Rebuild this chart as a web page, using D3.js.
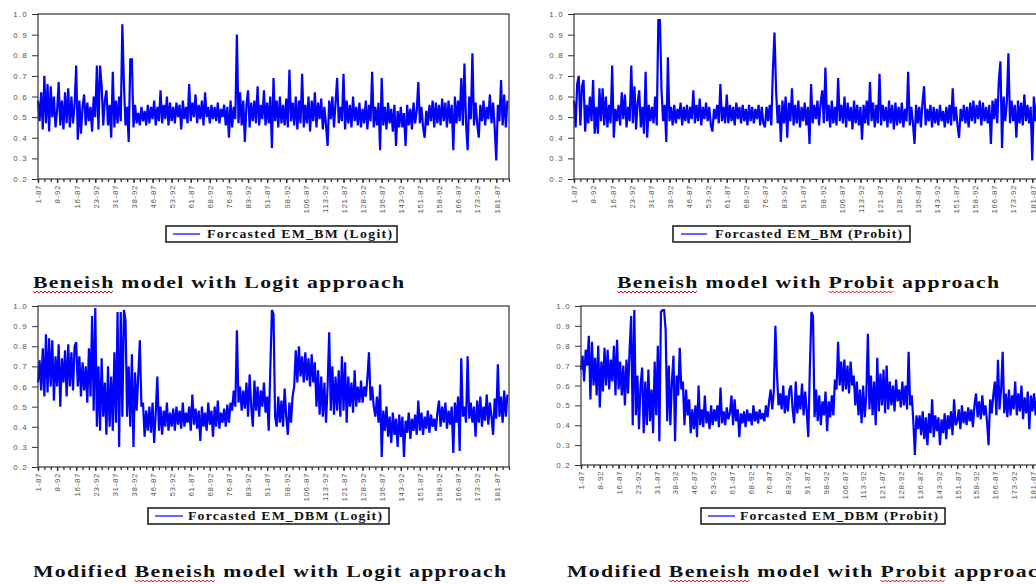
<!DOCTYPE html>
<html>
<head>
<meta charset="utf-8">
<script src="https://cdn.jsdelivr.net/npm/d3@7"></script>
<style>
  body { margin: 0; background: #fff; }
  svg { display: block; }
  .tick text { fill: #555; font-family: Arial, "Liberation Sans", sans-serif; }
</style>
</head>
<body>
<svg id="chart" width="1036" height="584"></svg>
<script>
// firm-year observations (185 firms x 6 years, 87..92)
var N_OBS = 1110;
var xLabels = ["1-87","8-92","16-87","23-92","31-87","38-92","46-87","53-92","61-87","68-92","76-87","83-92",
  "91-87","98-92","106-87","113-92","121-87","128-92","136-87","143-92","151-87","158-92","166-87","173-92","181-87"];
var yTicks = [0.2, 0.3, 0.4, 0.5, 0.6, 0.7, 0.8, 0.9, 1.0];

// Forcasted EM_BM (Logit), ~12 values per label interval
var emBmLogit = [
 .58,.48,.62,.44,.70,.47,.66,.43,.65,.50,.60,.45,
 .53,.67,.46,.58,.44,.62,.47,.64,.45,.60,.47,.56,
 .75,.39,.58,.42,.55,.61,.46,.57,.48,.55,.43,.60,
 .50,.75,.44,.75,.65,.46,.58,.63,.46,.56,.40,.72,
 .45,.58,.47,.60,.48,.95,.66,.46,.55,.38,.78,.78,
 .45,.56,.47,.52,.46,.55,.48,.53,.46,.56,.47,.55,
 .49,.58,.46,.55,.48,.63,.47,.56,.49,.60,.46,.57,
 .48,.55,.47,.57,.50,.56,.44,.58,.49,.55,.47,.66,
 .48,.57,.50,.61,.47,.56,.49,.58,.46,.62,.50,.55,
 .47,.56,.49,.55,.48,.57,.47,.54,.50,.56,.46,.55,
 .40,.58,.45,.55,.49,.90,.47,.62,.46,.58,.38,.56,
 .63,.45,.57,.48,.58,.47,.65,.46,.56,.49,.63,.46,
 .57,.47,.60,.35,.69,.48,.58,.45,.60,.47,.56,.46,
 .59,.45,.73,.48,.57,.46,.60,.44,.58,.47,.71,.45,
 .56,.47,.60,.43,.58,.48,.62,.45,.57,.49,.59,.44,
 .55,.46,.36,.58,.49,.60,.45,.57,.69,.47,.55,.48,
 .71,.44,.58,.47,.56,.45,.60,.48,.55,.46,.57,.45,
 .54,.47,.58,.44,.56,.48,.72,.45,.55,.46,.57,.34,
 .69,.46,.55,.44,.57,.47,.54,.43,.56,.36,.53,.45,
 .55,.45,.52,.36,.56,.46,.54,.44,.57,.47,.53,.67,
 .47,.55,.45,.40,.53,.46,.56,.48,.58,.45,.57,.47,
 .56,.46,.59,.48,.57,.45,.58,.47,.56,.34,.60,.47,
 .58,.48,.69,.46,.76,.47,.34,.60,.49,.81,.46,.57,
 .47,.40,.56,.48,.58,.46,.55,.49,.61,.47,.57,.45,
 .29,.56,.48,.68,.46,.61,.45,.58];

// Forcasted EM_BM (Probit)
var emBmProbit = [
 .58,.45,.66,.70,.46,.65,.68,.43,.56,.47,.60,.48,
 .68,.42,.55,.42,.64,.48,.64,.46,.60,.45,.56,.47,
 .75,.40,.54,.48,.56,.46,.62,.49,.61,.45,.55,.48,
 .75,.47,.65,.44,.57,.63,.45,.55,.42,.72,.40,.56,
 .48,.55,.47,.60,.46,.97,.97,.63,.48,.56,.38,.79,
 .48,.55,.46,.56,.47,.54,.49,.57,.46,.55,.48,.56,
 .47,.55,.49,.63,.47,.56,.48,.59,.46,.55,.49,.57,
 .48,.55,.46,.43,.54,.49,.56,.47,.66,.48,.55,.47,
 .61,.47,.56,.48,.55,.46,.57,.49,.55,.47,.56,.48,
 .54,.46,.56,.48,.55,.47,.54,.49,.56,.46,.55,.47,
 .45,.55,.48,.56,.46,.73,.91,.63,.47,.56,.38,.58,
 .47,.60,.40,.57,.48,.64,.46,.56,.47,.58,.45,.55,
 .48,.57,.46,.55,.37,.66,.47,.56,.49,.58,.46,.57,
 .63,.47,.74,.48,.56,.45,.58,.47,.55,.46,.69,.48,
 .56,.47,.60,.45,.57,.48,.55,.44,.58,.47,.56,.46,
 .55,.39,.56,.47,.58,.46,.67,.48,.57,.45,.56,.47,
 .71,.46,.56,.48,.55,.45,.58,.47,.56,.44,.57,.46,
 .55,.47,.57,.45,.54,.48,.72,.46,.55,.47,.37,.56,
 .47,.55,.45,.57,.65,.46,.54,.48,.56,.45,.55,.47,
 .54,.46,.56,.48,.53,.45,.55,.47,.56,.46,.64,.48,
 .55,.46,.40,.54,.48,.56,.47,.55,.45,.57,.48,.58,
 .47,.56,.49,.58,.46,.57,.48,.55,.47,.56,.37,.58,
 .49,.59,.47,.68,.77,.35,.60,.48,.57,.81,.47,.58,
 .48,.56,.40,.58,.47,.57,.46,.61,.48,.56,.47,.55,
 .29,.60,.48,.57,.46,.55,.47,.56];

// Forcasted EM_DBM (Logit)
var emDbmLogit = [
 .62,.73,.58,.79,.55,.86,.57,.84,.60,.83,.53,.75,
 .60,.81,.50,.74,.62,.78,.55,.81,.60,.77,.58,.80,
 .82,.60,.75,.55,.72,.58,.70,.52,.79,.55,.95,.48,
 .99,.40,.70,.38,.74,.45,.62,.36,.70,.40,.65,.38,
 .77,.42,.97,.30,.97,.45,.98,.93,.45,.70,.40,.76,
 .30,.67,.48,.65,.83,.50,.52,.35,.48,.38,.50,.37,
 .52,.32,.47,.65,.38,.50,.36,.48,.40,.52,.38,.47,
 .40,.49,.38,.50,.41,.48,.39,.52,.40,.47,.42,.50,
 .38,.56,.41,.49,.39,.48,.33,.50,.40,.47,.38,.52,
 .41,.48,.35,.50,.40,.53,.39,.47,.42,.49,.40,.51,
 .42,.52,.48,.58,.50,.88,.52,.60,.48,.58,.49,.62,
 .45,.66,.50,.40,.63,.48,.60,.45,.58,.50,.62,.47,
 .55,.38,.69,.98,.96,.45,.40,.55,.42,.53,.40,.59,
 .45,.36,.52,.42,.55,.60,.78,.62,.80,.65,.75,.62,
 .77,.63,.74,.60,.76,.62,.72,.50,.68,.46,.65,.45,
 .62,.42,.60,.87,.48,.70,.46,.65,.48,.68,.45,.75,
 .48,.72,.42,.65,.50,.62,.47,.68,.50,.60,.52,.63,
 .52,.60,.55,.64,.77,.53,.60,.50,.45,.55,.42,.61,
 .25,.48,.38,.50,.35,.45,.32,.47,.36,.44,.30,.46,
 .35,.45,.25,.43,.37,.47,.34,.44,.38,.46,.36,.53,
 .38,.47,.36,.45,.39,.48,.37,.46,.40,.44,.38,.47,
 .53,.40,.50,.42,.52,.39,.48,.41,.50,.27,.52,.42,
 .55,.28,.74,.45,.50,.42,.75,.44,.52,.42,.50,.35,
 .53,.42,.55,.40,.50,.43,.56,.41,.52,.45,.36,.54,
 .44,.71,.45,.55,.42,.58,.45,.56];

// Forcasted EM_DBM (Probit)
var emDbmProbit = [
 .68,.75,.62,.78,.70,.85,.53,.82,.60,.74,.55,.80,
 .49,.72,.57,.79,.60,.78,.58,.73,.62,.80,.55,.83,
 .58,.72,.55,.70,.50,.73,.56,.78,.95,.40,.98,.45,
 .65,.38,.60,.69,.36,.62,.40,.68,.42,.58,.36,.72,
 .45,.80,.32,.97,.98,.98,.88,.42,.70,.40,.62,.75,
 .32,.65,.55,.79,.58,.62,.40,.58,.45,.53,.36,.48,
 .38,.50,.34,.60,.40,.48,.39,.55,.41,.47,.38,.50,
 .40,.48,.42,.50,.39,.59,.41,.47,.40,.49,.43,.46,
 .55,.40,.53,.42,.48,.34,.46,.41,.47,.39,.48,.42,
 .46,.40,.50,.42,.47,.41,.48,.43,.46,.42,.50,.44,
 .52,.58,.48,.57,.90,.66,.50,.56,.48,.60,.46,.55,
 .47,.58,.60,.48,.41,.62,.46,.55,.48,.61,.45,.57,
 .47,.34,.69,.97,.95,.44,.58,.42,.55,.40,.52,.45,
 .57,.37,.52,.44,.55,.45,.63,.58,.82,.60,.72,.57,
 .73,.58,.70,.56,.72,.60,.65,.50,.62,.45,.58,.41,
 .60,.44,.55,.86,.48,.65,.45,.62,.40,.74,.47,.66,
 .50,.68,.46,.70,.48,.62,.50,.60,.47,.63,.52,.58,
 .49,.62,.50,.60,.48,.77,.50,.55,.42,.25,.45,.38,
 .45,.35,.47,.33,.44,.30,.46,.36,.53,.34,.45,.37,
 .44,.30,.43,.36,.46,.33,.45,.38,.47,.35,.53,.40,
 .42,.48,.38,.50,.41,.47,.40,.49,.42,.48,.39,.50,
 .56,.44,.52,.43,.55,.45,.50,.42,.30,.53,.46,.55,
 .62,.45,.73,.48,.58,.77,.46,.56,.44,.58,.45,.55,
 .48,.62,.45,.56,.47,.60,.43,.54,.46,.57,.38,.55,
 .47,.56,.45,.55,.48,.52,.46,.54];

var legendNames = ["Forcasted EM_BM (Logit)", "Forcasted EM_BM (Probit)",
                   "Forcasted EM_DBM (Logit)", "Forcasted EM_DBM (Probit)"];
var titles = ["Beneish model with Logit approach", "Beneish model with Probit approach",
              "Modified Beneish model with Logit approach", "Modified Beneish model with Probit approach"];
var underlined = [["Beneish"], ["Beneish","Probit"], ["Beneish"], ["Beneish","Probit"]];

// layout of the four panels (pixels)
var panels = [
  {data: emBmLogit,   x0: 38,  x1: 509,  y0: 14,  y1: 179, leg: [166,226,397,242,173,200,207,392], title: [33,288,371]},
  {data: emBmProbit,  x0: 574, x1: 1045, y0: 14,  y1: 179, leg: [673,226,910,242,681,707,715,902], title: [617,288,382]},
  {data: emDbmLogit,  x0: 38,  x1: 509,  y0: 306, y1: 467, leg: [148,508,389,524,155,183,188,382], title: [33,577,473]},
  {data: emDbmProbit, x0: 581, x1: 1045, y0: 306, y1: 465, leg: [701,508,945,524,708,735,740,938], title: [567,577,484]}
];

var sx = 1.28;   // captions are wide, heavy type
var svg = d3.select("#chart");

panels.forEach(function(p, k) {
  var x = d3.scaleLinear().domain([0, N_OBS]).range([p.x0, p.x1]);
  var y = d3.scaleLinear().domain([0.2, 1.0]).range([p.y1, p.y0]);
  var step = N_OBS / p.data.length;

  var g = svg.append("g");

  // the series
  var line = d3.line()
      .x(function(d, i) { return x(i * step); })
      .y(function(d) { return y(d); });
  g.append("path")
      .datum(p.data)
      .attr("d", line)
      .attr("fill", "none")
      .attr("stroke", "#0000ff")
      .attr("stroke-width", 2.2)
      .attr("stroke-linejoin", "miter")
      .attr("stroke-miterlimit", 1.5);

  // frame
  g.append("rect")
      .attr("x", p.x0).attr("y", p.y0)
      .attr("width", p.x1 - p.x0).attr("height", p.y1 - p.y0)
      .attr("fill", "none").attr("stroke", "#333").attr("stroke-width", 1.2);

  // y axis
  var ya = g.append("g")
      .attr("transform", "translate(" + p.x0 + ",0)")
      .call(d3.axisLeft(y).tickValues(yTicks).tickFormat(d3.format(".1f")).tickSize(6).tickPadding(4));
  ya.select(".domain").remove();
  ya.selectAll("line").attr("stroke", "#333");
  ya.selectAll("text").attr("font-size", 8).attr("letter-spacing", "1.2px");

  // x axis: minor ticks
  var minor = d3.range(0, N_OBS + 1, 15);
  var xm = g.append("g")
      .attr("transform", "translate(0," + p.y1 + ")")
      .call(d3.axisBottom(x).tickValues(minor).tickSize(3).tickFormat(""));
  xm.select(".domain").remove();
  xm.selectAll("line").attr("stroke", "#333").attr("stroke-width", 1.3);

  // x axis: labelled ticks
  var major = xLabels.map(function(l, i) { return i * 45; });
  var xa = g.append("g")
      .attr("transform", "translate(0," + p.y1 + ")")
      .call(d3.axisBottom(x).tickValues(major).tickSize(4)
        .tickFormat(function(d, i) { return xLabels[i]; }));
  xa.select(".domain").remove();
  xa.selectAll("line").attr("stroke", "#333").attr("stroke-width", 1.3);
  xa.selectAll("text")
      .attr("font-size", 8)
      .attr("letter-spacing", "0.6px")
      .attr("text-anchor", "end")
      .attr("transform", "rotate(-90)")
      .attr("x", -6).attr("y", 0).attr("dy", "0.35em");

  // legend
  var L = p.leg;
  g.append("rect")
      .attr("x", L[0]).attr("y", L[1]).attr("width", L[2] - L[0]).attr("height", L[3] - L[1])
      .attr("fill", "#fff").attr("stroke", "#222").attr("stroke-width", 1.6);
  g.append("line")
      .attr("x1", L[4]).attr("x2", L[5])
      .attr("y1", (L[1] + L[3]) / 2).attr("y2", (L[1] + L[3]) / 2)
      .attr("stroke", "#0000ff").attr("stroke-width", 1.2);
  g.append("text")
      .attr("transform", "translate(" + L[6] + "," + ((L[1] + L[3]) / 2 + 4) + ") scale(1.2,1)")
      .attr("font-family", "'Liberation Serif', 'Times New Roman', serif")
      .attr("font-weight", "bold").attr("font-size", 11.5).attr("fill", "#111")
      .attr("textLength", (L[7] - L[6]) / 1.2).attr("lengthAdjust", "spacing")
      .text(legendNames[k]);

  // caption under panel
  var T = p.title;
  var t = svg.append("text")
      .attr("transform", "translate(" + T[0] + "," + T[1] + ") scale(" + sx + ",1)")
      .attr("font-family", "'Liberation Serif', 'Times New Roman', serif")
      .attr("font-weight", "bold").attr("font-size", 17).attr("fill", "#111")
      .attr("textLength", T[2] / sx).attr("lengthAdjust", "spacing")
      .text(titles[k]);

  // red wavy spell-check underline
  underlined[k].forEach(function(w) {
    var s = titles[k].indexOf(w);
    var node = t.node();
    var a = T[0] + sx * node.getStartPositionOfChar(s).x;
    var b = T[0] + sx * node.getEndPositionOfChar(s + w.length - 1).x;
    var pts = [];
    for (var xx = a, j = 0; xx <= b; xx += 2, j++) pts.push([xx, T[1] + 3 + (j % 2 ? 2 : 0)]);
    svg.append("path")
        .attr("d", d3.line()(pts))
        .attr("fill", "none").attr("stroke", "#e00").attr("stroke-width", 1);
  });
});
</script>
</body>
</html>
